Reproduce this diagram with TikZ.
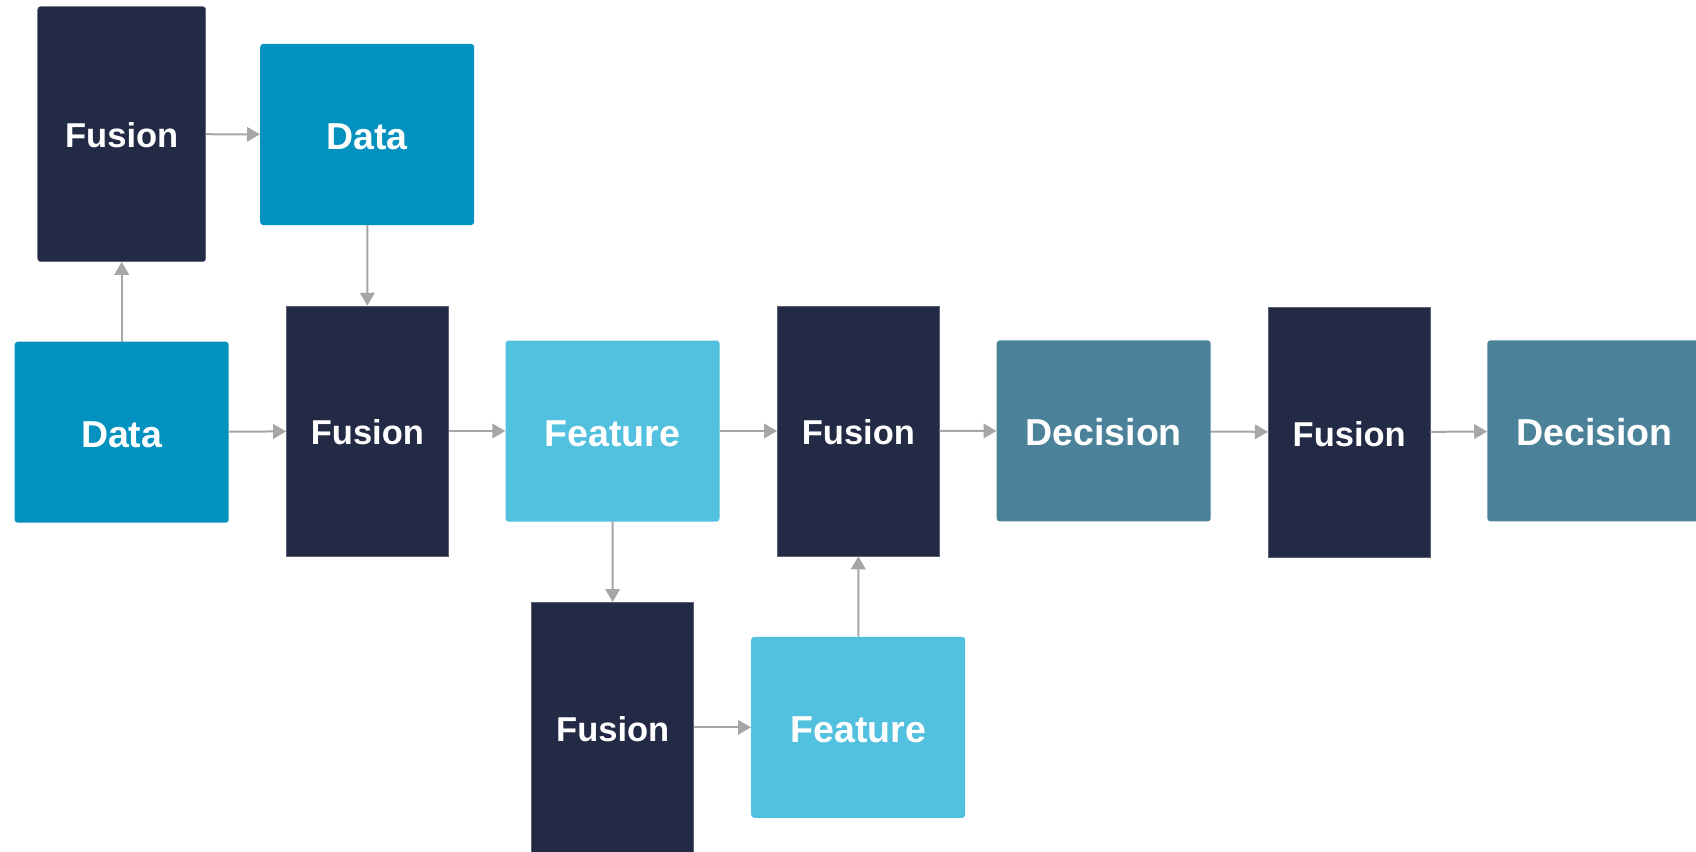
\documentclass[tikz,border=0pt]{standalone}
\usepackage{fontspec}
\setmainfont{Liberation Sans}
\usetikzlibrary{arrows.meta}
\definecolor{fusionnavy}{HTML}{232A45}
\definecolor{databox}{HTML}{0391C0}
\definecolor{featurebox}{HTML}{52C0DF}
\definecolor{decisionbox}{HTML}{4C8299}
\definecolor{linkgray}{HTML}{A6A6A6}
\tikzset{
  fusionbox/.style={fill=fusionnavy, draw=fusionnavy!75!white, line width=0.5pt,
    minimum width=162pt, minimum height=250pt, inner sep=0pt,
    text height=27.6pt, text depth=0pt,
    text=white, font=\bfseries\fontsize{34.5}{40}\selectfont},
  stagebox/.style={rounded corners=3pt, minimum width=214pt, minimum height=181pt,
    inner sep=0pt, text height=30pt, text depth=0pt,
    text=white, font=\bfseries\fontsize{37.5}{44}\selectfont},
  databx/.style={stagebox, fill=databox},
  featurebx/.style={stagebox, fill=featurebox},
  decisionbx/.style={stagebox, fill=decisionbox},
  link/.style={draw=linkgray, line width=2pt, -{Triangle[length=13pt,width=14.5pt]}},
}
\begin{document}
\begin{tikzpicture}[x=1pt, y=-1pt]
  \useasboundingbox (0,0) rectangle (1696,851);
  \clip (0,0) rectangle (1696,851);
  \fill[white] (0,0) rectangle (1696,851);

  % upper branch
  \node[fusionbox, rounded corners=3pt, minimum width=168pt, minimum height=255pt] (f1) at (121.7,134.1) {Fusion};
  \node[databx] (dtop) at (367.2,134.5) {Data};

  % main row
  \node[databx] (dleft) at (121.7,432.2) {Data};
  \node[fusionbox] (f2) at (367.4,431) {Fusion};
  \node[featurebx] (feat) at (612.5,431) {Feature};
  \node[fusionbox] (f3) at (858.4,431) {Fusion};
  \node[decisionbx] (dec1) at (1103.7,430.9) {Decision};
  \node[fusionbox] (f4) at (1349.2,432.3) {Fusion};
  \node[decisionbx] (dec2) at (1594.4,430.9) {Decision};

  % lower branch
  \node[fusionbox] (fb) at (612.7,727.3) {Fusion};
  \node[featurebx] (featb) at (858.2,727.3) {Feature};

  % connectors
  \draw[link] (dleft) -- (f1);
  \draw[link] (f1) -- (dtop);
  \draw[link] (dtop) -- (f2);
  \draw[link] (dleft) -- (f2);
  \draw[link] (f2) -- (feat);
  \draw[link] (feat) -- (f3);
  \draw[link] (f3) -- (dec1);
  \draw[link] (dec1) -- (f4);
  \draw[link] (f4) -- (dec2);
  \draw[link] (feat) -- (fb);
  \draw[link] (fb) -- (featb);
  \draw[link] (featb) -- (f3);
\end{tikzpicture}
\end{document}
